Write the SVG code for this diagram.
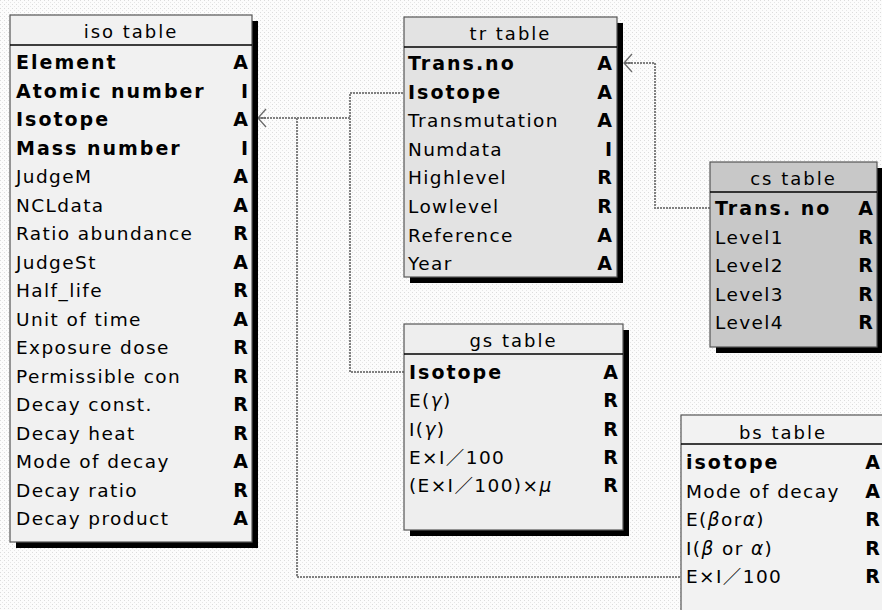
<svg xmlns="http://www.w3.org/2000/svg" width="882" height="610" viewBox="0 0 882 610">
<defs>
<pattern id="dots" width="4" height="4" patternUnits="userSpaceOnUse">
<rect width="4" height="4" fill="#fcfcfc"/>
<rect x="0" y="0" width="1" height="1" fill="#dcdcdc"/>
<rect x="2" y="2" width="1" height="1" fill="#e6e6e6"/>
</pattern>
<style>
.box{stroke:#555;stroke-width:1.2}
.shadow{fill:#000}
.sep{stroke:#000;stroke-width:1.5}
.title{font-family:"DejaVu Sans",sans-serif;font-size:18px;letter-spacing:2px;text-anchor:middle;fill:#000}
.f{font-family:"DejaVu Sans","Noto Sans CJK JP",sans-serif;font-size:18.5px;letter-spacing:1.4px;fill:#000}
.b{font-family:"DejaVu Sans",sans-serif;font-size:19px;font-weight:bold;letter-spacing:2px;fill:#000}
.t{font-family:"DejaVu Sans",sans-serif;font-size:19px;font-weight:bold;text-anchor:end;fill:#000}
.conn{fill:none;stroke:#808080;stroke-width:2;stroke-dasharray:2 1}
.foot{fill:none;stroke:#6a6a6a;stroke-width:1.3}
</style>
</defs>
<rect width="882" height="610" fill="url(#dots)"/>

<g id="connectors">
<path class="conn" d="M258 118 H350 V93 H404"/>
<path class="conn" d="M350 118 V372 H404"/>
<path class="conn" d="M297 118 V577 H681"/>
<path class="conn" d="M710 208 H655 V63 H624"/>
<path class="foot" d="M266 109 L258 118 L266 127 M258 118 H266"/>
<path class="foot" d="M632 54 L624 63 L632 72 M624 63 H632"/>
</g>

<g id="iso">
<rect class="shadow" x="16" y="21" width="242" height="527"/>
<rect class="box" x="10" y="15" width="242" height="527" fill="#f1f1f1"/>
<line class="sep" x1="10" y1="45" x2="252" y2="45"/>
<text class="title" x="131" y="38">iso table</text>
<text class="b" x="16" y="69">Element</text><text class="t" x="248" y="69">A</text>
<text class="b" x="16" y="97.5">Atomic number</text><text class="t" x="248" y="97.5">I</text>
<text class="b" x="16" y="126">Isotope</text><text class="t" x="248" y="126">A</text>
<text class="b" x="16" y="154.5">Mass number</text><text class="t" x="248" y="154.5">I</text>
<text class="f" x="16" y="183">JudgeM</text><text class="t" x="248" y="183">A</text>
<text class="f" x="16" y="211.5">NCLdata</text><text class="t" x="248" y="211.5">A</text>
<text class="f" x="16" y="240">Ratio abundance</text><text class="t" x="248" y="240">R</text>
<text class="f" x="16" y="268.5">JudgeSt</text><text class="t" x="248" y="268.5">A</text>
<text class="f" x="16" y="297">Half_life</text><text class="t" x="248" y="297">R</text>
<text class="f" x="16" y="325.5">Unit of time</text><text class="t" x="248" y="325.5">A</text>
<text class="f" x="16" y="354">Exposure dose</text><text class="t" x="248" y="354">R</text>
<text class="f" x="16" y="382.5">Permissible con</text><text class="t" x="248" y="382.5">R</text>
<text class="f" x="16" y="411">Decay const.</text><text class="t" x="248" y="411">R</text>
<text class="f" x="16" y="439.5">Decay heat</text><text class="t" x="248" y="439.5">R</text>
<text class="f" x="16" y="468">Mode of decay</text><text class="t" x="248" y="468">A</text>
<text class="f" x="16" y="496.5">Decay ratio</text><text class="t" x="248" y="496.5">R</text>
<text class="f" x="16" y="525">Decay product</text><text class="t" x="248" y="525">A</text>
</g>

<g id="tr">
<rect class="shadow" x="410" y="23" width="213" height="260"/>
<rect class="box" x="404" y="17" width="213" height="260" fill="#e3e3e3"/>
<line class="sep" x1="404" y1="47" x2="617" y2="47"/>
<text class="title" x="510.5" y="40">tr table</text>
<text class="b" x="408" y="70">Trans.no</text><text class="t" x="612" y="70">A</text>
<text class="b" x="408" y="98.6">Isotope</text><text class="t" x="612" y="98.6">A</text>
<text class="f" x="408" y="127.2">Transmutation</text><text class="t" x="612" y="127.2">A</text>
<text class="f" x="408" y="155.8">Numdata</text><text class="t" x="612" y="155.8">I</text>
<text class="f" x="408" y="184.4">Highlevel</text><text class="t" x="612" y="184.4">R</text>
<text class="f" x="408" y="213">Lowlevel</text><text class="t" x="612" y="213">R</text>
<text class="f" x="408" y="241.6">Reference</text><text class="t" x="612" y="241.6">A</text>
<text class="f" x="408" y="270.2">Year</text><text class="t" x="612" y="270.2">A</text>
</g>

<g id="cs">
<rect class="shadow" x="716" y="168" width="167" height="185"/>
<rect class="box" x="710" y="162" width="167" height="185" fill="#c8c8c8"/>
<line class="sep" x1="710" y1="192" x2="877" y2="192"/>
<text class="title" x="793.5" y="185">cs table</text>
<text class="b" x="715" y="215">Trans. no</text><text class="t" x="873" y="215">A</text>
<text class="f" x="715" y="243.5">Level1</text><text class="t" x="873" y="243.5">R</text>
<text class="f" x="715" y="272">Level2</text><text class="t" x="873" y="272">R</text>
<text class="f" x="715" y="300.5">Level3</text><text class="t" x="873" y="300.5">R</text>
<text class="f" x="715" y="329">Level4</text><text class="t" x="873" y="329">R</text>
</g>

<g id="gs">
<rect class="shadow" x="410" y="330" width="219" height="206"/>
<rect class="box" x="404" y="324" width="219" height="206" fill="#eeeeee"/>
<line class="sep" x1="404" y1="354" x2="623" y2="354"/>
<text class="title" x="513.5" y="347">gs table</text>
<text class="b" x="409" y="379">Isotope</text><text class="t" x="618" y="379">A</text>
<text class="f" x="409" y="407.3">E(<tspan font-style="italic">γ</tspan>)</text><text class="t" x="618" y="407.3">R</text>
<text class="f" x="409" y="435.6">I(<tspan font-style="italic">γ</tspan>)</text><text class="t" x="618" y="435.6">R</text>
<text class="f" x="409" y="463.9">E×I／100</text><text class="t" x="618" y="463.9">R</text>
<text class="f" x="409" y="492.2">(E×I／100)×<tspan font-style="italic">μ</tspan></text><text class="t" x="618" y="492.2">R</text>
</g>

<g id="bs">
<rect class="shadow" x="687" y="421" width="204" height="200"/>
<rect class="box" x="681" y="415" width="204" height="200" fill="#f2f2f2"/>
<line class="sep" x1="681" y1="444" x2="885" y2="444"/>
<text class="title" x="783" y="439">bs table</text>
<text class="b" x="686" y="469">isotope</text><text class="t" x="880" y="469">A</text>
<text class="f" x="686" y="497.5">Mode of decay</text><text class="t" x="880" y="497.5">A</text>
<text class="f" x="686" y="526">E(<tspan font-style="italic">β</tspan>or<tspan font-style="italic">α</tspan>)</text><text class="t" x="880" y="526">R</text>
<text class="f" x="686" y="554.5">I(<tspan font-style="italic">β</tspan> or <tspan font-style="italic">α</tspan>)</text><text class="t" x="880" y="554.5">R</text>
<text class="f" x="686" y="583">E×I／100</text><text class="t" x="880" y="583">R</text>
</g>
</svg>
